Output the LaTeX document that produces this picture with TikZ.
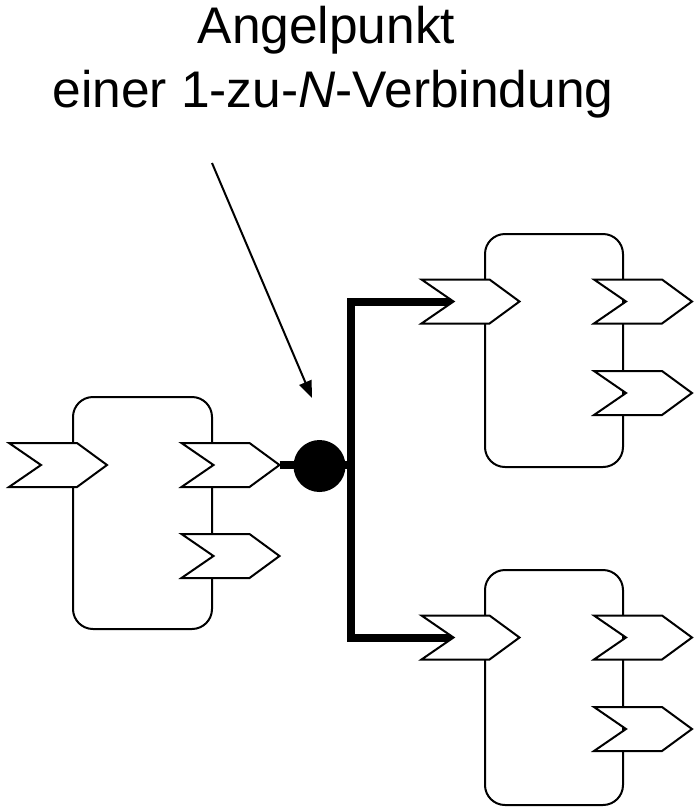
\documentclass[tikz,border=0pt]{standalone}
\usepackage{fontspec}
\setmainfont{Liberation Sans}
\usetikzlibrary{arrows.meta,backgrounds}
\begin{document}
\begin{tikzpicture}[x=1pt,y=-1pt,
  box/.style={draw, line width=2pt, rounded corners=20pt, inner sep=0pt},
  portline/.style={draw, fill=white, line width=2pt, line join=miter},
  bus/.style={line width=8pt, line join=miter},
  title/.style={anchor=base, font=\fontsize{51.5}{52}\selectfont, inner sep=0pt},
  port/.pic={
    \path[portline] (-49,-22) -- (-17,0) -- (-49,22) -- (19,22) -- (49,0) -- (19,-22) -- cycle;
    \coordinate (-notch) at (-17,0);
    \coordinate (-tip) at (49,0);
  }
]
\useasboundingbox (0,0) rectangle (697,807);

% blocks
\node[box, minimum width=139pt, minimum height=232pt] (L)  at (142.5,513) {};
\node[box, minimum width=138pt, minimum height=233pt] (TR) at (554,350.5) {};
\node[box, minimum width=138pt, minimum height=235pt] (BR) at (554,687.5) {};

% ports
\pic (Li)  at (58,465)    {port};
\pic (Lo1) at (230.5,465) {port};
\pic (Lo2) at (230.5,556) {port};
\pic (TRi)  at (470.5,301.5) {port};
\pic (TRo1) at (643,301.5)   {port};
\pic (TRo2) at (643,393)     {port};
\pic (BRi)  at (470.5,637.5) {port};
\pic (BRo1) at (643,637.5)   {port};
\pic (BRo2) at (643,729)     {port};

% pivot point and bus
\node[circle, fill=black, inner sep=0pt, minimum size=52pt] (dot) at (319.5,466) {};
\coordinate (bus) at (351,465);
\begin{scope}[on background layer]
  \draw[bus] (Lo1-tip) -- (bus);
  \draw[bus] (TRi-notch) -| (bus) |- (BRi-notch);
\end{scope}

% title and pointer
\node[title] (t1) at (326.5,43) {Angelpunkt};
\node[title] (t2) at (333,107) {einer 1-zu-\textit{N}-Verbindung};
\coordinate (as) at (212,163);
\coordinate (ae) at (312,398);
\draw[line width=2pt, -{Triangle[length=17pt,width=13pt]}] (as) -- (ae);
\end{tikzpicture}
\end{document}
